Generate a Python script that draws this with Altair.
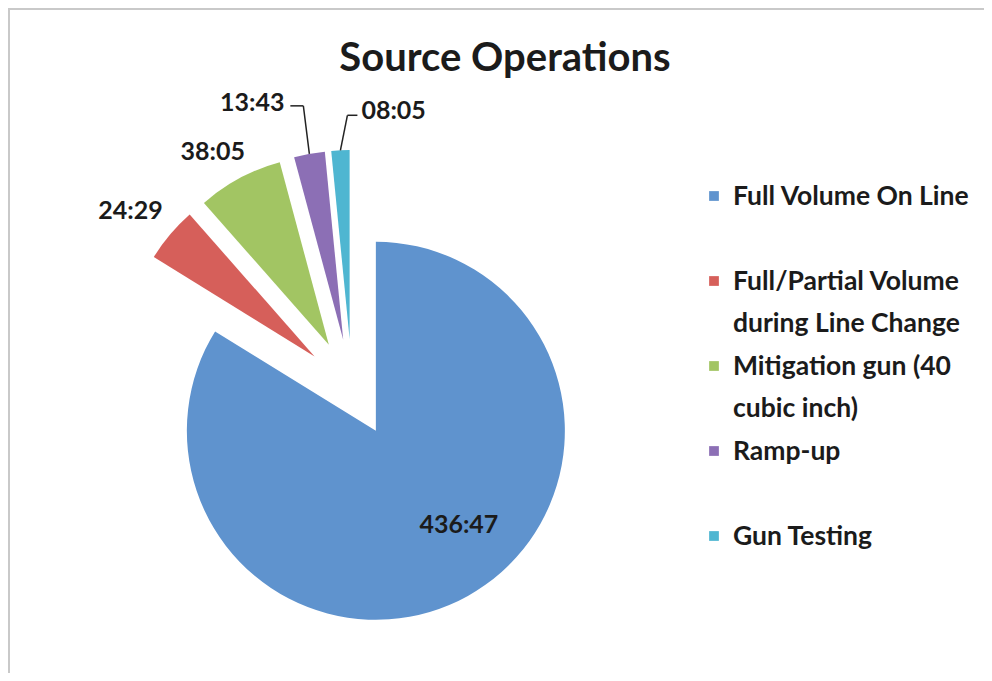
import altair as alt
import pandas as pd

# ---------------- data ----------------
CATEGORIES = [
    "Full Volume On Line",
    "Full/Partial Volume during Line Change",
    "Mitigation gun (40 cubic inch)",
    "Ramp-up",
    "Gun Testing",
]
DURATIONS = ["436:47", "24:29", "38:05", "13:43", "08:05"]  # hh:mm
LEGEND_TEXT = [
    "Full Volume On Line",
    "Full/Partial Volume\nduring Line Change",
    "Mitigation gun (40\ncubic inch)",
    "Ramp-up",
    "Gun Testing",
]
COLORS = ["#5F93CE", "#D65F5A", "#A2C563", "#8C6FB5", "#4FB6D1"]

# ---------------- layout (pixels) ----------------
W, H = 976, 665
CX, CY = 344, 380          # pie centre
R = 189                    # pie radius
EXPLODE = 49               # explosion distance of every slice
# label offsets relative to each slice apex
LABEL_DX = [83, -184, -116, -91, 44]
LABEL_DY = [94, -145, -193, -237, -228]
# leader lines relative to the slice's outer arc midpoint: (start dx, elbow dx, dy)
LEAD_SX = [None, None, None, -19, 17]
LEAD_EX = [None, None, None, -6, 7]
LEAD_DY = [None, None, None, -48, -35]
LEG_X, LEG_Y0, LEG_STEP = 706, 188, 85
FONT = "Lato"
TXT = "#1b1b1b"

minutes = [int(d.split(":")[0]) * 60 + int(d.split(":")[1]) for d in DURATIONS]
df = pd.DataFrame({
    "category": CATEGORIES,
    "duration": DURATIONS,
    "minutes": minutes,
    "order": list(range(len(CATEGORIES))),
    "legend_text": LEGEND_TEXT,
    "ldx": LABEL_DX,
    "ldy": LABEL_DY,
    "lead_sx": LEAD_SX,
    "lead_ex": LEAD_EX,
    "lead_dy": LEAD_DY,
})

color = alt.Color("category:N", scale=alt.Scale(domain=CATEGORIES, range=COLORS), legend=None)

base = (
    alt.Chart(df)
    .transform_joinaggregate(total="sum(minutes)")
    .transform_window(cum="sum(minutes)", sort=[alt.SortField("order", order="ascending")], frame=[None, 0])
    .transform_calculate(
        t0="2*PI*(datum.cum - datum.minutes)/datum.total",
        t1="2*PI*datum.cum/datum.total",
    )
    .transform_calculate(mid="(datum.t0 + datum.t1)/2")
    .transform_calculate(
        ax=f"{CX} + {EXPLODE}*sin(datum.mid)",
        ay=f"{CY} - {EXPLODE}*cos(datum.mid)",
    )
    .transform_calculate(
        ox=f"datum.ax + {R}*sin(datum.mid)",
        oy=f"datum.ay - {R}*cos(datum.mid)",
        lx="datum.ax + datum.ldx",
        ly="datum.ay + datum.ldy",
        legy=f"{LEG_Y0} + {LEG_STEP}*datum.order",
    )
    .transform_calculate(legty="datum.legy + 9")
)

arcs = base.mark_arc(radius=R).encode(
    x=alt.X("ax:Q", scale=None, axis=None),
    y=alt.Y("ay:Q", scale=None, axis=None),
    theta=alt.Theta("t0:Q", scale=None, stack=False),
    theta2=alt.Theta2("t1:Q"),
    color=color,
)

labels = base.mark_text(font=FONT, fontWeight="bold", fontSize=25, color=TXT,
                        align="center", baseline="middle").encode(
    x=alt.X("lx:Q", scale=None),
    y=alt.Y("ly:Q", scale=None),
    text="duration:N",
)

leader_base = base.transform_filter("isValid(datum.lead_ex)").transform_calculate(
    l_sx="datum.ox + datum.lead_sx",
    l_ex="datum.ox + datum.lead_ex",
    l_y="datum.oy + datum.lead_dy",
)
leader_h = leader_base.mark_rule(color="#222222", strokeWidth=1.5).encode(
    x=alt.X("l_sx:Q", scale=None), x2="l_ex:Q",
    y=alt.Y("l_y:Q", scale=None), y2="l_y:Q",
)
leader_s = leader_base.mark_rule(color="#222222", strokeWidth=1.5).encode(
    x=alt.X("l_ex:Q", scale=None), x2="ox:Q",
    y=alt.Y("l_y:Q", scale=None), y2="oy:Q",
)

leg_sym = base.mark_square(size=95, opacity=1).encode(
    x=alt.value(LEG_X),
    y=alt.Y("legy:Q", scale=None),
    color=color,
)
leg_txt = base.mark_text(font=FONT, fontWeight="bold", fontSize=26.5, color=TXT,
                         align="left", baseline="alphabetic", lineBreak="\n",
                         lineHeight=42).encode(
    x=alt.value(LEG_X + 19),
    y=alt.Y("legty:Q", scale=None),
    text="legend_text:N",
)

frame_data = alt.Chart(pd.DataFrame({"k": [0]}))
border_top = frame_data.mark_rule(color="#C9C9C9", strokeWidth=2).encode(
    x=alt.value(0), x2=alt.value(W), y=alt.value(1))
border_left = frame_data.mark_rule(color="#C9C9C9", strokeWidth=2).encode(
    x=alt.value(1), y=alt.value(0), y2=alt.value(H))

chart = (
    alt.layer(border_top, border_left, arcs, leader_h, leader_s, labels, leg_sym, leg_txt)
    .properties(
        width=W,
        height=H,
        padding=0,
        autosize=alt.AutoSizeParams(type="none"),
        title=alt.Title("Source Operations", font=FONT, fontSize=40, fontWeight="bold",
                        color=TXT, anchor="middle", frame="group", baseline="alphabetic",
                        offset=0, dy=104, dx=9),
    )
    .configure_view(stroke=None)
    .configure(background="white")
)

chart.save("out.html", embed_options={"renderer": "svg", "actions": False})
